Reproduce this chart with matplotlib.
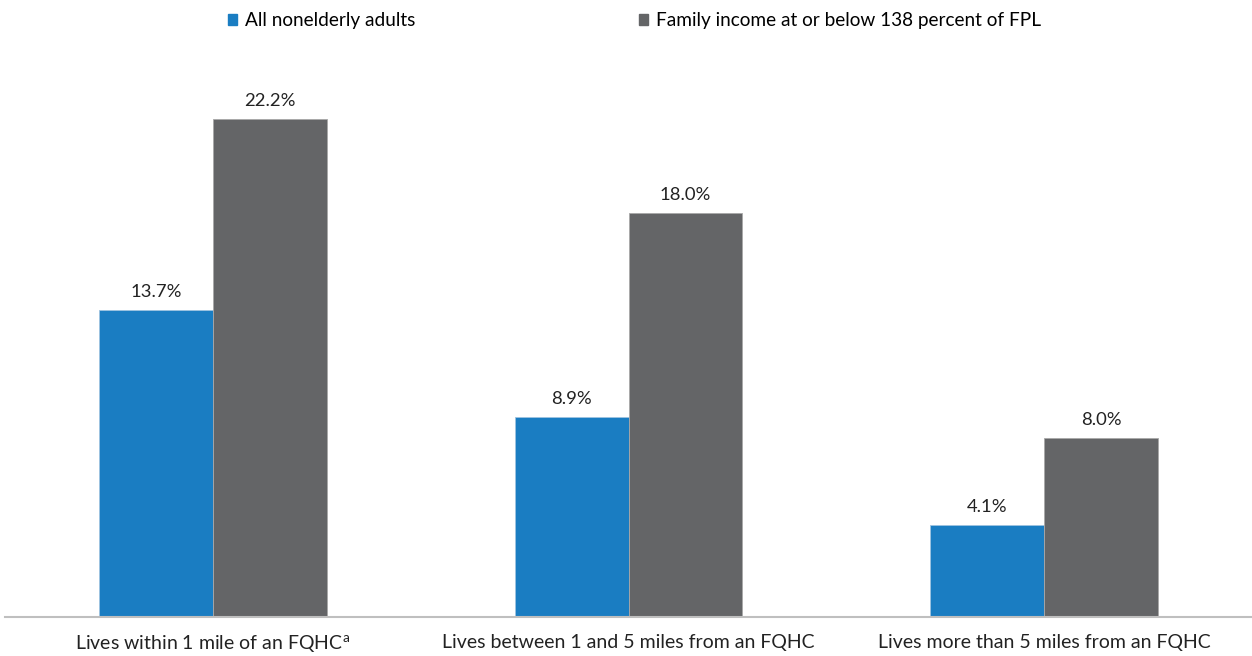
import numpy as np
import matplotlib
matplotlib.use("Agg")
import matplotlib.pyplot as plt
from matplotlib.patches import Patch

plt.rcParams['font.family'] = ['Lato', 'DejaVu Sans']
plt.rcParams['mathtext.fontset'] = 'custom'
plt.rcParams['mathtext.rm'] = 'Lato'

categories = ["Lives within 1 mile of an FQHC$^{\\mathrm{a}}$",
              "Lives between 1 and 5 miles from an FQHC",
              "Lives more than 5 miles from an FQHC"]
series_names = ["All nonelderly adults",
                "Family income at or below 138 percent of FPL"]
all_adults = [13.7, 8.9, 4.1]
low_income = [22.2, 18.0, 8.0]

blue = "#1a7dc2"
grey = "#646567"

fig = plt.figure(figsize=(12.52, 6.56), dpi=100)
ax = fig.add_axes([0.004, 0.0595, 0.996, 0.864])

x = np.arange(len(categories))
w = 0.274
b1 = ax.bar(x - w/2, all_adults, w, color=blue, edgecolor="#9fc3e0", linewidth=0.6)
b2 = ax.bar(x + w/2, low_income, w, color=grey, edgecolor="#a8a8a8", linewidth=0.6)

for bars, vals in ((b1, all_adults), (b2, low_income)):
    for r, v in zip(bars, vals):
        ax.text(r.get_x() + r.get_width()/2, v + 0.45, f"{v:.1f}%",
                ha="center", va="bottom", fontsize=13.3, color="#222222")

ax.set_xlim(-0.5, 2.5)
ax.set_ylim(0, 25.28)
ax.set_yticks([])
ax.set_xticks(x)
ax.set_xticklabels(categories, fontsize=14, color="#222222")
ax.tick_params(axis="x", length=0, pad=12)
for s in ["top", "right", "left"]:
    ax.spines[s].set_visible(False)
ax.spines["bottom"].set_color("#bfbfbf")
ax.spines["bottom"].set_linewidth(1.5)

# two legend entries placed separately, as in the original
for name, col, xpos in ((series_names[0], blue, 0.182), (series_names[1], grey, 0.510)):
    fig.legend([Patch(color=col)], [name], loc="center left",
               bbox_to_anchor=(xpos, 0.969), frameon=False, fontsize=13.7,
               handlelength=0.5, handleheight=0.5, handletextpad=0.4,
               borderpad=0, borderaxespad=0)

fig.savefig("out.png", dpi=100)
